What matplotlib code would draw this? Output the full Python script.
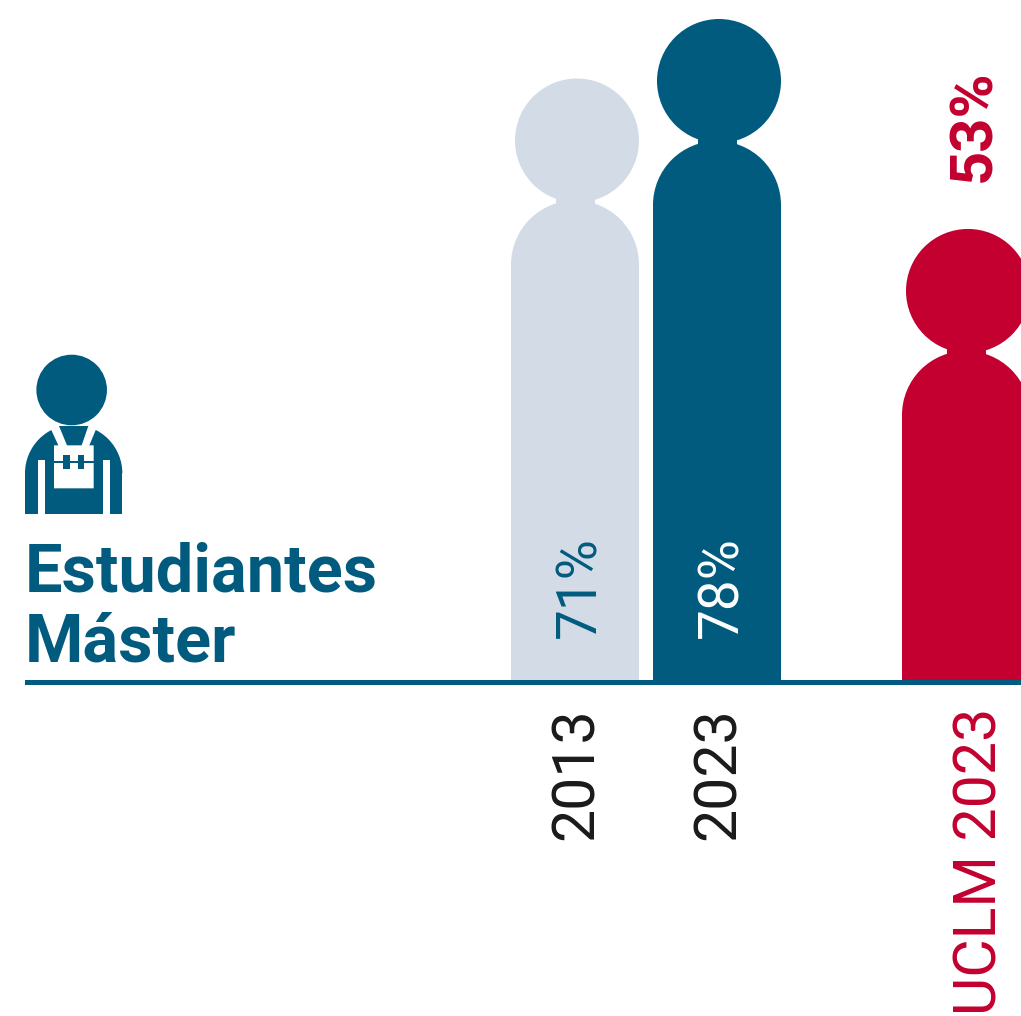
import matplotlib
matplotlib.use("Agg")
import matplotlib.pyplot as plt
from matplotlib.patches import Circle, Rectangle, Polygon, Wedge

plt.rcParams['font.family'] = ['Roboto', 'DejaVu Sans']

# data
years = ["2013", "2023", "UCLM 2023"]
values = [71, 78, 53.3]
value_labels = ["71%", "78%", "53%"]
title_lines = ["Estudiantes", "Máster"]

DARK = "#005B7F"
LIGHT = "#D3DCE6"
RED = "#C3002F"
INK = "#1A1A1A"

PX_PER_PCT = 8.5
BASE = 682
BAR_W = 128
HEAD_R = 62
bar_lefts = [511, 653, 902]
bar_colors = [LIGHT, DARK, RED]
value_colors = [DARK, "white", RED]
year_colors = [INK, INK, RED]

fig = plt.figure(figsize=(10.21, 10.16), dpi=100)
ax = fig.add_axes([0, 0, 1, 1])
ax.set_xlim(0, 1021)
ax.set_ylim(1016, 0)
ax.axis("off")


def person(left, value, color):
    top = BASE - value * PX_PER_PCT
    cx = left + BAR_W / 2 + 2
    body_top = top + 2 * HEAD_R - 2
    r = BAR_W / 2
    ax.add_patch(Circle((cx, top + HEAD_R), HEAD_R, color=color, lw=0))
    # shoulders, y axis is flipped so the half wedge runs 180-360
    ax.add_patch(Wedge((left + r, body_top + r), r, 180, 360, color=color, lw=0))
    # overlap by a pixel so no seam shows under the shoulders
    ax.add_patch(Rectangle((left, body_top + r - 1), BAR_W, BASE - body_top - r + 1, color=color, lw=0))
    # neck
    ax.add_patch(Rectangle((left + r - 19.5, body_top - 5), 39, 14, color=color, lw=0))


for left, v, col in zip(bar_lefts, values, bar_colors):
    person(left, v, col)

# baseline
ax.add_patch(Rectangle((25, 680.3), 996, 5, color=DARK, lw=0, zorder=3))

# labels inside the bars
for left, lab, col in zip(bar_lefts[:2], value_labels[:2], value_colors[:2]):
    ax.text(left + BAR_W / 2 + 5, 638, lab, rotation=90, ha="center", va="bottom",
            color=col, fontsize=39.5)
ax.text(974, 182, value_labels[2], rotation=90, ha="center", va="bottom",
        color=RED, fontsize=43, fontweight="bold")

# years under the axis
for left, y, col in zip(bar_lefts, years, year_colors):
    if y == "UCLM 2023":
        ax.text(980, 1015, y, rotation=90, ha="center", va="bottom", color=col, fontsize=42.5)
    else:
        ax.text(left + BAR_W / 2 + 1, 840, y, rotation=90, ha="center", va="bottom", color=col, fontsize=42.5)

# heading
ax.text(25, 573, title_lines[0], color=DARK, fontsize=48, fontweight="bold", va="center")
ax.text(25, 644, title_lines[1], color=DARK, fontsize=48, fontweight="bold", va="center")


def z(x, y):
    return (x / 3, 340 + y / 3)


ax.add_patch(Wedge(z(221, 400), 48.7, 180, 360, color=DARK, lw=0))
ax.add_patch(Rectangle(z(75, 399), 97.3, 40.7, color=DARK, lw=0))
ax.add_patch(Polygon([z(153, 268), z(175, 316), z(162, 316), z(162, 445), z(281, 445), z(281, 316),
                      z(268, 316), z(288, 268), z(288, 245), z(153, 245)], color="white", lw=0))
ax.add_patch(Circle(z(215, 150), 35.3, color=DARK, lw=0))
ax.add_patch(Polygon([z(177, 258), z(265, 258), z(245, 316), z(201, 316)], color=DARK, lw=0))
for xa, xb in [(113, 134), (309, 329)]:
    ax.add_patch(Rectangle(z(xa, 360), (xb - xa) / 3, 161 / 3, color="white", lw=0))
for xa in [190, 233]:
    ax.add_patch(Rectangle(z(xa, 345), 20 / 3, 43 / 3, color=DARK, lw=0))
ax.add_patch(Rectangle(z(162, 362), 119 / 3, 6 / 3, color=DARK, lw=0))

fig.savefig("out.png", dpi=100)
